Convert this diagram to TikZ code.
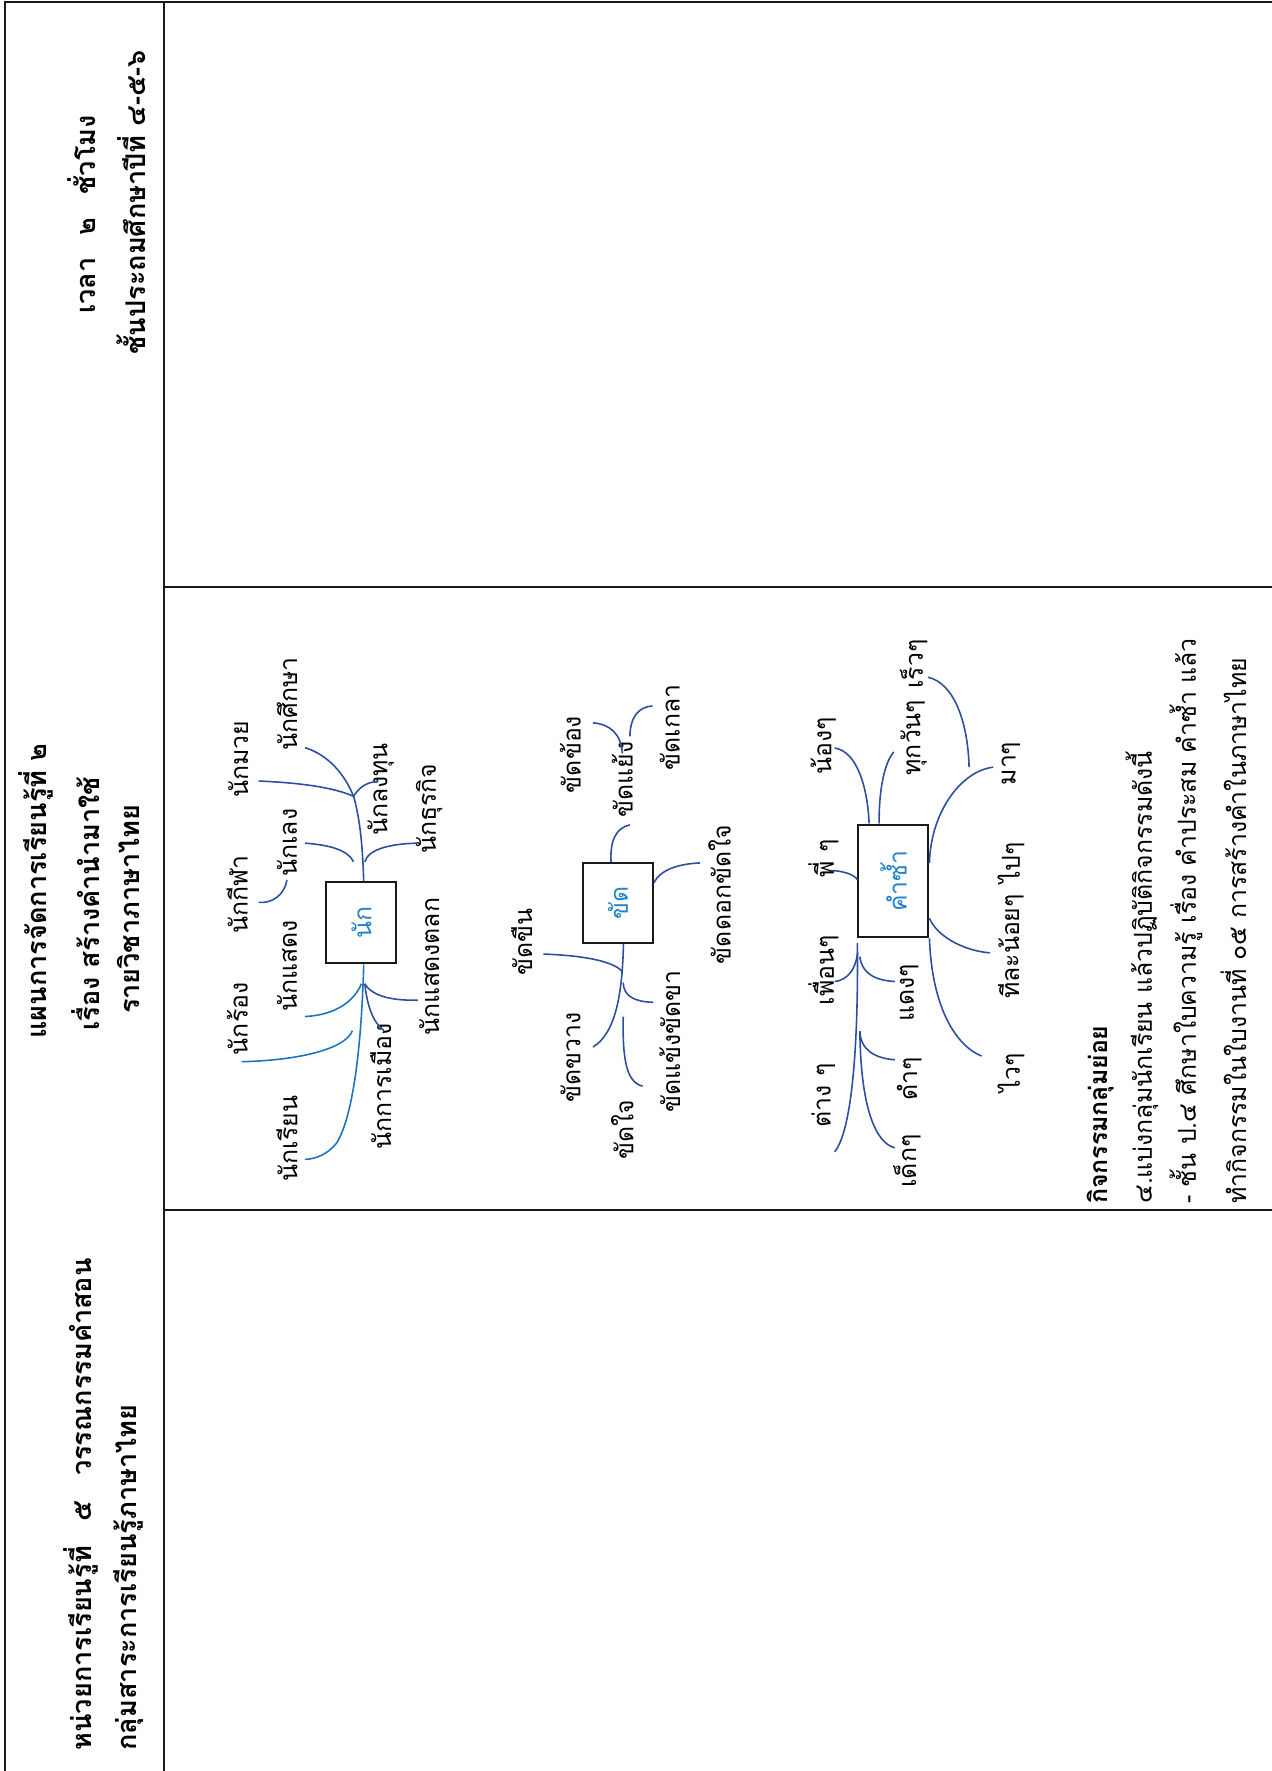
\documentclass[tikz,border=0pt]{standalone}
\usepackage{fontspec}
\setmainfont[Script=Thai]{Loma}
\newfontfamily\thai[Script=Thai]{Loma}
\definecolor{dkblue}{RGB}{44,78,160}
\definecolor{ltblue}{RGB}{30,115,190}
\definecolor{txtblue}{RGB}{35,130,200}
\begin{document}
\begin{tikzpicture}[x=1pt,y=-1pt,
  frame/.style={draw=black!90,line width=1.8pt},
  hdr/.style={rotate=90,inner sep=0pt,font=\thai\bfseries\fontsize{24}{28}\selectfont},
  lbl/.style={rotate=90,inner sep=0pt,font=\thai\fontsize{22}{26}\selectfont},
  act/.style={rotate=90,inner sep=0pt,anchor=west,font=\thai\fontsize{22}{26}\selectfont},
  acttitle/.style={act,font=\thai\bfseries\fontsize{22}{26}\selectfont},
  boxnode/.style={draw=black!90,line width=1.8pt,inner sep=0pt},
  boxtxt/.style={rotate=90,inner sep=0pt,text=txtblue,font=\thai\fontsize{22}{26}\selectfont},
  dk/.style={draw=dkblue,line width=1.4pt},
  lt/.style={draw=ltblue,line width=1.4pt}]
\useasboundingbox (0,0) rectangle (1126,1568);
% table frame
\draw[frame] (4,1568) -- (4,1.5) -- (1126,1.5);
\draw[frame] (145,1.5) -- (145,1568);
\draw[frame] (145,520) -- (1126,520);
\draw[frame] (145,1071) -- (1126,1071);
% headers
\node[hdr] (h1) at (72,190) {เวลา\hspace{20pt}๒\hspace{20pt}ชั่วโมง};
\node[hdr] (h2) at (116,179) {ชั้นประถมศึกษาปีที่ ๔-๕-๖};
\node[hdr] (h3) at (32,789) {แผนการจัดการเรียนรู้ที่ ๒};
\node[hdr] (h4) at (76,800) {เรื่อง สร้างคำนำมาใช้};
\node[hdr] (h5) at (114,805) {รายวิชาภาษาไทย};
\node[hdr,anchor=west] (h6) at (72,1550) {หน่วยการเรียนรู้ที่\hspace{22pt}๕\hspace{22pt}วรรณกรรมคำสอน};
\node[hdr,anchor=west] (h7) at (114,1550) {กลุ่มสาระการเรียนรู้ภาษาไทย};
% ---------- map 1
\node[boxnode,minimum width=62pt,minimum height=72pt] (b1) at (320,817) {};
\node[boxtxt] (b1t) at (b1) {นัก};
\node[lbl] (n1) at (254,623) {นักศึกษา};
\node[lbl] (n2) at (211,672) {นักมวย};
\node[lbl] (n3) at (254,746) {นักเลง};
\node[lbl] (n4) at (210,792) {นักกีฬา};
\node[lbl] (n5) at (337,699) {นักลงทุน};
\node[lbl] (n6) at (380,716) {นักธุรกิจ};
\node[lbl] (n7) at (254,855) {นักแสดง};
\node[lbl] (n8) at (210,902) {นักร้อง};
\node[lbl] (n9) at (380,856) {นักแสดงตลก};
\node[lbl] (n10) at (337,962) {นักการเมือง};
\node[lbl] (n11) at (254,1008) {นักเรียน};
\coordinate (m1j) at (313,705);
\coordinate (m1a) at (270,662);
\coordinate (m1b) at (229,691.5);
\coordinate (m1c) at (335,692);
\coordinate (m1d1) at (270,746.5);
\coordinate (m1d2) at (313,763);
\coordinate (m1e1) at (229,799);
\coordinate (m1e2) at (254,779);
\coordinate (m1f1) at (323,763);
\coordinate (m1f2) at (370,746.5);
\coordinate (m1k) at (298,1012);
\coordinate (m1g) at (270,1026.5);
\coordinate (m1h1) at (270,900);
\coordinate (m1h2) at (320,871);
\coordinate (m1i1) at (214,940);
\coordinate (m1i2) at (312,912.6);
\coordinate (m1l) at (323,871);
\coordinate (m1m) at (340,912.6);
\coordinate (m1n) at (370,885.5);
\draw[dk] ([xshift=2pt]b1.north) .. controls (321,745) and (318,722) .. (m1j) .. controls (305,685) and (290,668) .. (m1a);
\draw[dk] (m1b) .. controls (265,693) and (295,697) .. (m1j);
\draw[dk] (m1j) .. controls (318,697) and (325,692) .. (m1c);
\draw[dk] (m1d1) .. controls (290,748) and (308,752) .. (m1d2);
\draw[dk] (m1e1) .. controls (240,800) and (252,793) .. (m1e2);
\draw[dk] (m1f1) .. controls (326,752) and (345,747) .. (m1f2);
\draw[lt] ([xshift=2pt]b1.south) .. controls (320,930) and (312,990) .. (m1k) .. controls (290,1022) and (280,1026) .. (m1g);
\draw[lt] (m1h1) .. controls (292,899) and (312,890) .. (m1h2);
\draw[lt] (m1i1) .. controls (260,939) and (305,930) .. (m1i2);
\draw[dk] (m1l) .. controls (325,890) and (330,905) .. (m1m);
\draw[dk] (m1l) .. controls (330,883) and (350,886) .. (m1n);
% ---------- map 2
\node[boxnode,minimum width=62pt,minimum height=71pt] (b2) at (547,799.5) {};
\node[boxtxt] (b2t) at (b2) {ขัด};
\node[lbl] (k1) at (505,668) {ขัดข้อง};
\node[lbl] (k2) at (551,690) {ขัดแย้ง};
\node[lbl] (k3) at (593,644) {ขัดเกลา};
\node[lbl] (k4) at (462,834) {ขัดขืน};
\node[lbl] (k5) at (637,792) {ขัดดอกขัดใจ};
\node[lbl] (k6) at (505,936) {ขัดขวาง};
\node[lbl] (k7) at (593,922) {ขัดแข้งขัดขา};
\node[lbl] (k8) at (551,1000) {ขัดใจ};
\coordinate (m2a) at (557.7,730.3);
\coordinate (m2b1) at (525,640);
\coordinate (m2b2) at (551,667);
\coordinate (m2c1) at (557.7,652);
\coordinate (m2c2) at (577.7,625);
\coordinate (m2d) at (619.6,764);
\coordinate (m2e) at (525,927);
\coordinate (m2f1) at (481,844.7);
\coordinate (m2f2) at (551,860.5);
\coordinate (m2g1) at (551.8,870);
\coordinate (m2g2) at (578.3,887.4);
\coordinate (m2h1) at (551.8,900);
\coordinate (m2h2) at (569,961.7);
\draw[dk] ([xshift=-6pt]b2.north) .. controls (540,745) and (545,733) .. (m2a);
\draw[dk] (m2b1) .. controls (540,641) and (550,650) .. (m2b2);
\draw[dk] (m2c1) .. controls (558,635) and (565,626) .. (m2c2);
\draw[dk] ([yshift=18pt]b2.east) .. controls (585,770) and (600,765) .. (m2d);
\draw[dk] ([xshift=5pt]b2.south) .. controls (551,880) and (545,915) .. (m2e);
\draw[dk] (m2f1) .. controls (520,846) and (545,852) .. (m2f2);
\draw[dk] (m2g1) .. controls (552,882) and (562,887) .. (m2g2);
\draw[dk] (m2h1) .. controls (551,940) and (555,958) .. (m2h2);
% ---------- map 3
\node[boxnode,minimum width=62pt,minimum height=100pt] (b3) at (791,780) {};
\node[boxtxt] (b3t) at (b3) {คำซ้ำ};
\node[lbl] (c1) at (729,660) {น้องๆ};
\node[lbl] (c2) at (729,760) {พี่ ๆ};
\node[lbl] (c3) at (729,859) {เพื่อนๆ};
\node[lbl] (c4) at (729,970) {ต่าง ๆ};
\node[lbl] (c5) at (809,653) {ทุกวันๆ};
\node[lbl] (c6) at (809,588) {เร็วๆ};
\node[lbl] (c7) at (805,879) {แดงๆ};
\node[lbl] (c8) at (805,955) {ดำๆ};
\node[lbl] (c9) at (803,1028) {เด็กๆ};
\node[lbl] (c10) at (895,676) {มาๆ};
\node[lbl] (c11) at (895,764) {ไปๆ};
\node[lbl] (c12) at (895,838) {ทีละน้อยๆ};
\node[lbl] (c13) at (895,950) {ไวๆ};
\coordinate (m3a) at (739,662.3);
\coordinate (m3b) at (791.4,665.7);
\coordinate (m3c1) at (858,679.2);
\coordinate (m3c2) at (821.7,599.6);
\coordinate (m3d) at (879.3,679.2);
\coordinate (m3e) at (735.3,770.7);
\coordinate (m3f) at (876.3,843.6);
\coordinate (m3g) at (869,935);
\coordinate (m3h) at (739,1019.8);
\coordinate (m3i1) at (739,869);
\coordinate (m3i2) at (759.2,843.6);
\coordinate (m3j1) at (761.3,847);
\coordinate (m3j2) at (792.2,869);
\coordinate (m3k) at (761.3,913);
\coordinate (m3l) at (792.2,938.3);
\coordinate (m3m) at (792.2,1016.2);
\draw[dk] ([xshift=-21.5pt]b3.north) .. controls (768,695) and (758,665) .. (m3a);
\draw[dk] ([xshift=-12.6pt]b3.north) .. controls (778,700) and (783,675) .. (m3b);
\draw[dk] (m3c1) .. controls (857,640) and (845,605) .. (m3c2);
\draw[dk] ([yshift=16pt]b3.east) .. controls (824,720) and (850,683) .. (m3d);
\draw[dk] (m3e) .. controls (748,771) and (757,775) .. ([yshift=1pt]b3.west);
\draw[dk] ([yshift=-33pt]b3.east) .. controls (830,830) and (855,842) .. (m3f);
\draw[dk] (b3.south east) .. controls (825,890) and (845,925) .. (m3g);
\draw[dk] ([yshift=-4pt]b3.south west) .. controls (760,920) and (755,1000) .. (m3h);
\draw[dk] (m3i1) .. controls (750,868) and (758,858) .. (m3i2);
\draw[dk] (m3j1) .. controls (763,862) and (775,868) .. (m3j2);
\draw[dk] (m3k) .. controls (762,930) and (775,937) .. (m3l);
\draw[dk] (m3k) .. controls (762,980) and (775,1012) .. (m3m);
% ---------- activity
\node[acttitle] (a0) at (974,1066) {กิจกรรมกลุ่มย่อย};
\node[act] (a1) at (1011,1066) {๔.แบ่งกลุ่มนักเรียน แล้วปฏิบัติกิจกรรมดังนี้};
\node[act] (a2) at (1050,1066) {- ชั้น ป.๔ ศึกษาใบความรู้ เรื่อง คำประสม คำซ้ำ แล้ว};
\node[act] (a3) at (1092,1066) {ทำกิจกรรมในใบงานที่ ๐๕ การสร้างคำในภาษาไทย};
\end{tikzpicture}
\end{document}
